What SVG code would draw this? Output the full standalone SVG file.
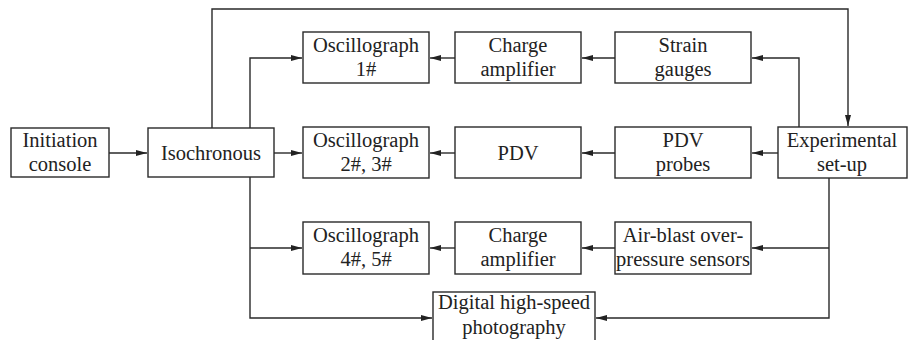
<svg xmlns="http://www.w3.org/2000/svg" width="908" height="340" viewBox="0 0 908 340">
<style>
.box{fill:#fff;stroke:#2a2a2a;stroke-width:1.4}
.t{font-family:'Liberation Serif','Times New Roman','DejaVu Serif',serif;font-size:20.5px;fill:#222;text-anchor:middle}
.c{fill:none;stroke:#2a2a2a;stroke-width:1.4}
</style>
<defs>
<marker id="a" markerUnits="userSpaceOnUse" markerWidth="12" markerHeight="8" refX="11" refY="4" orient="auto">
<path d="M0,1 L11,4 L0,7 Z" fill="#222"/>
</marker>
</defs>
<rect width="908" height="340" fill="#fff"/>
<g id="connectors">
<path class="c" d="M109,153 H147" marker-end="url(#a)"/>
<path class="c" d="M274,153 H302" marker-end="url(#a)"/>
<path class="c" d="M250,128 V58 H302" marker-end="url(#a)"/>
<path class="c" d="M250,177 V318 H432" marker-end="url(#a)"/>
<path class="c" d="M250,248 H302" marker-end="url(#a)"/>
<path class="c" d="M212,128 V9 H848 V126" marker-end="url(#a)"/>
<path class="c" d="M455,58 H430" marker-end="url(#a)"/>
<path class="c" d="M615,58 H582" marker-end="url(#a)"/>
<path class="c" d="M799,127 V58 H752" marker-end="url(#a)"/>
<path class="c" d="M455,153 H430" marker-end="url(#a)"/>
<path class="c" d="M615,153 H582" marker-end="url(#a)"/>
<path class="c" d="M778,153 H752" marker-end="url(#a)"/>
<path class="c" d="M455,248 H430" marker-end="url(#a)"/>
<path class="c" d="M615,248 H582" marker-end="url(#a)"/>
<path class="c" d="M829,178 V318 H596" marker-end="url(#a)"/>
<path class="c" d="M829,248 H752" marker-end="url(#a)"/>
</g>
<g id="initiation"><rect class="box" x="11" y="128" width="98" height="49"/><text class="t" x="60" y="147">Initiation</text><text class="t" x="60" y="171">console</text></g>
<g id="isochronous"><rect class="box" x="148" y="128" width="126" height="49"/><text class="t" x="211" y="160">Isochronous</text></g>
<g id="osc1"><rect class="box" x="303" y="32" width="126" height="51"/><text class="t" x="366" y="52">Oscillograph</text><text class="t" x="366" y="76">1#</text></g>
<g id="charge1"><rect class="box" x="455" y="32" width="126" height="51"/><text class="t" x="518" y="52">Charge</text><text class="t" x="518" y="76">amplifier</text></g>
<g id="strain"><rect class="box" x="615" y="32" width="136" height="51"/><text class="t" x="683" y="52">Strain</text><text class="t" x="683" y="76">gauges</text></g>
<g id="osc23"><rect class="box" x="303" y="127" width="126" height="51"/><text class="t" x="366" y="147">Oscillograph</text><text class="t" x="366" y="171">2#, 3#</text></g>
<g id="pdv"><rect class="box" x="455" y="127" width="126" height="51"/><text class="t" x="518" y="160">PDV</text></g>
<g id="pdvprobes"><rect class="box" x="615" y="127" width="136" height="51"/><text class="t" x="683" y="147">PDV</text><text class="t" x="683" y="171">probes</text></g>
<g id="experimental"><rect class="box" x="778" y="127" width="129" height="51"/><text class="t" x="842" y="147">Experimental</text><text class="t" x="842" y="171">set-up</text></g>
<g id="osc45"><rect class="box" x="303" y="222" width="126" height="52"/><text class="t" x="366" y="242">Oscillograph</text><text class="t" x="366" y="266">4#, 5#</text></g>
<g id="charge2"><rect class="box" x="455" y="222" width="126" height="52"/><text class="t" x="518" y="242">Charge</text><text class="t" x="518" y="266">amplifier</text></g>
<g id="airblast"><rect class="box" x="615" y="222" width="136" height="52"/><text class="t" x="683" y="242">Air-blast over-</text><text class="t" x="683" y="266">pressure sensors</text></g>
<g id="digital"><rect class="box" x="433" y="292" width="162" height="56"/><text class="t" x="514" y="309">Digital high-speed</text><text class="t" x="514" y="334">photography</text></g>
</svg>
